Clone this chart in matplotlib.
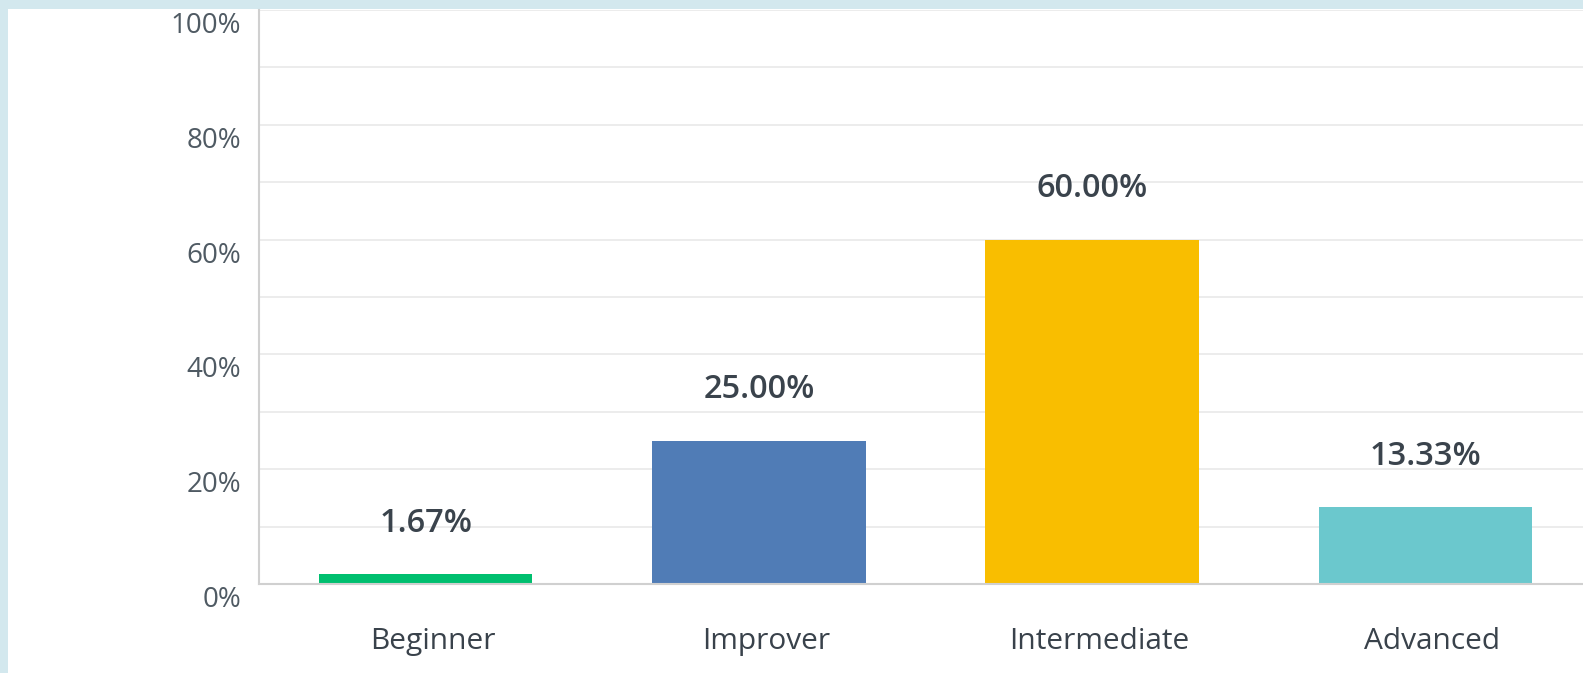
import matplotlib
matplotlib.use("Agg")
import matplotlib.pyplot as plt
from matplotlib.patches import Rectangle
from matplotlib.transforms import offset_copy, ScaledTranslation

categories = ["Beginner", "Improver", "Intermediate", "Advanced"]
values = [1.67, 25.00, 60.00, 13.33]
value_labels = ["1.67%", "25.00%", "60.00%", "13.33%"]
colors = ["#00bf6f", "#507cb6", "#f9be00", "#6bc8cd"]
ytick_vals = [0, 20, 40, 60, 80, 100]
ytick_labels = ["0%", "20%", "40%", "60%", "80%", "100%"]

W, H = 1583, 673
fig = plt.figure(figsize=(W / 100, H / 100), dpi=100)
fig.patch.set_facecolor("#d3e8ee")
# white panel
fig.patches.append(Rectangle((8 / W, 0), 1, 1 - 9 / H, transform=fig.transFigure,
                             facecolor="white", edgecolor="none", zorder=-10))

left, right = 259 / W, 1592 / W
bottom, top = 1 - 584 / H, 1 - 10 / H
ax = fig.add_axes([left, bottom, right - left, top - bottom])
ax.set_facecolor("none")
ax.set_xlim(-0.5, 3.5)
ax.set_ylim(0, 100)

for y in range(10, 101, 10):
    ax.axhline(y, color="#ebebeb", lw=1.3, zorder=0)

x = list(range(len(categories)))
ax.bar(x, values, width=0.64, color=colors, zorder=2)

font = "Open Sans"
for xi, v, lab in zip(x, values, value_labels):
    tr = offset_copy(ax.transData, fig=fig, x=0, y=51, units="dots")
    ax.text(xi, v, lab, transform=tr, ha="center", va="center",
            fontsize=23.5, color="#3a434c", family=font, fontweight="semibold")

for s in ["top", "right"]:
    ax.spines[s].set_visible(False)
for s in ["left", "bottom"]:
    ax.spines[s].set_color("#d0d0d0")
    ax.spines[s].set_linewidth(1.5)

ax.set_yticks(ytick_vals)
ax.set_yticklabels([])
ax.tick_params(axis="y", length=0)
for yv, lab in zip(ytick_vals, ytick_labels):
    tr = offset_copy(ax.get_yaxis_transform(), fig=fig, x=-18, y=-16, units="dots")
    ax.text(0, yv, lab, transform=tr, ha="right", va="center",
            fontsize=20, color="#4f5a63", family=font)

ax.set_xticks(x)
ax.set_xticklabels(categories, fontsize=21.5, color="#39424b", family=font)
ax.tick_params(axis="x", length=0, pad=31)
shift = ScaledTranslation(7 / 100, 0, fig.dpi_scale_trans)
for t in ax.get_xticklabels():
    t.set_transform(t.get_transform() + shift)

fig.savefig("out.png", dpi=100, facecolor=fig.get_facecolor())
